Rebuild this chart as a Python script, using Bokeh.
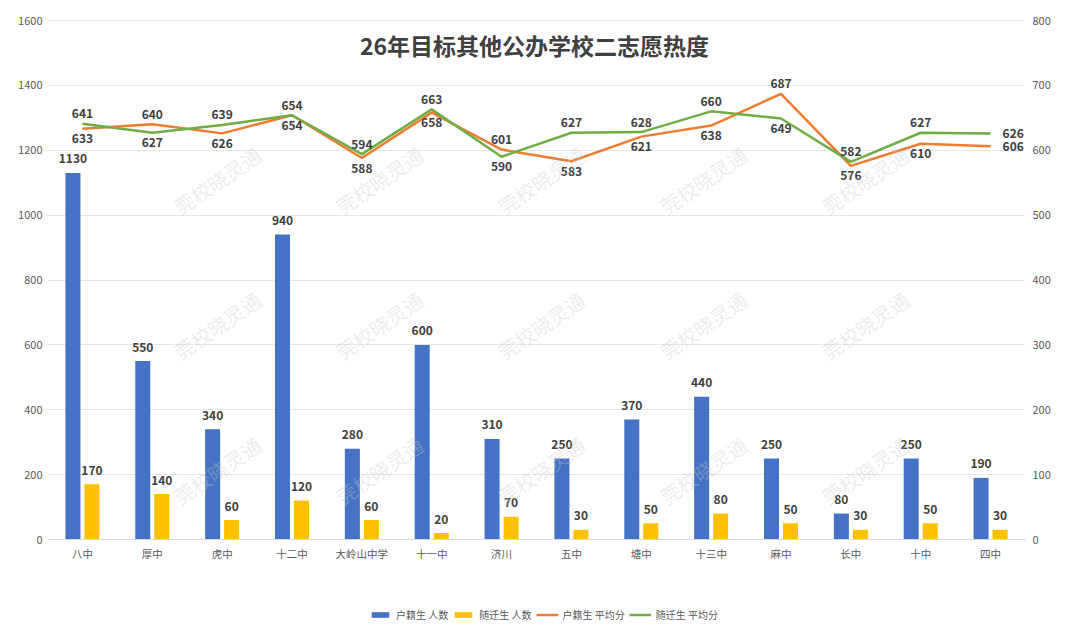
from bokeh.plotting import figure
from bokeh.models import (FactorRange, Range1d, LinearAxis, FixedTicker, Label,
                          Legend, LegendItem, ColumnDataSource)
from bokeh.transform import dodge
from bokeh.core.properties import value
from bokeh.embed import file_html
from bokeh.resources import INLINE

# ---------------- data ----------------
schools = ["八中", "厚中", "虎中", "十二中", "大岭山中学", "十一中", "济川",
           "五中", "塘中", "十三中", "麻中", "长中", "十中", "四中"]
huji_count = [1130, 550, 340, 940, 280, 600, 310, 250, 370, 440, 250, 80, 250, 190]
suiqian_count = [170, 140, 60, 120, 60, 20, 70, 30, 50, 80, 50, 30, 50, 30]
huji_avg = [633, 640, 626, 654, 588, 658, 601, 583, 621, 638, 687, 576, 610, 606]
suiqian_avg = [641, 627, 639, 654, 594, 663, 590, 627, 628, 660, 649, 582, 627, 626]
left_ticks = [0, 200, 400, 600, 800, 1000, 1200, 1400, 1600]
right_ticks = [0, 100, 200, 300, 400, 500, 600, 700, 800]
series_names = ["户籍生 人数", "随迁生 人数", "户籍生 平均分", "随迁生 平均分"]
title_text = "26年目标其他公办学校二志愿热度"
watermark_text = "莞校晓灵通"

# ---------------- style / layout ----------------
FONT = "Noto Sans CJK SC"
BLUE, GOLD, ORANGE, GREEN = "#4472C4", "#FFC000", "#ED7D31", "#70AD47"
LABEL_C = "#404040"
AXIS_C = "#595959"

W, H = 1080, 640
ML, MR = 47, 55           # side margins holding the value axes
Y_TOP_PX, Y_ZERO_PX = 20, 539   # pixel rows of the top tick and of zero
FW = W - ML - MR
FH = H
px_per_unit = (Y_ZERO_PX - Y_TOP_PX) / left_ticks[-1]
y_lo = -(H - Y_ZERO_PX) / px_per_unit
y_hi = left_ticks[-1] + Y_TOP_PX / px_per_unit
ratio = right_ticks[-1] / left_ticks[-1]

p = figure(width=W, height=H, x_range=FactorRange(factors=schools),
           y_range=Range1d(y_lo, y_hi), output_backend="svg",
           toolbar_location=None,
           min_border_left=ML, min_border_right=MR, min_border_top=0,
           min_border_bottom=0)
p.extra_y_ranges = {"score": Range1d(y_lo * ratio, y_hi * ratio)}
p.outline_line_color = None
p.background_fill_color = "white"
p.border_fill_color = "white"

# faint watermark
for j in range(5):
    for k in range(7):
        px = 55 + 162 * k
        py = 35 + 145 * j
        sx, sy = px - ML, H - py
        if 45 <= sx <= FW - 45 and 45 <= sy <= FH - 80:
            p.add_layout(Label(x=sx, y=sy, x_units="screen", y_units="screen",
                               text=watermark_text, angle=0.6,
                               text_align="center", text_baseline="middle",
                               text_font=FONT, text_font_size="20px",
                               text_color="#C8C8C8", text_alpha=0.35))

# axes
p.yaxis.ticker = FixedTicker(ticks=left_ticks)
p.ygrid.ticker = FixedTicker(ticks=left_ticks)
p.xgrid.grid_line_color = None
p.ygrid.grid_line_color = "#E6E6E6"
p.ygrid.grid_line_width = 1

lax = p.yaxis[0]
lax.axis_line_color = None
lax.major_tick_line_color = None
lax.minor_tick_line_color = None
lax.major_tick_out = 0
lax.major_tick_in = 0
lax.minor_tick_out = 0
lax.major_label_text_font = FONT
lax.major_label_text_font_size = "11px"
lax.major_label_text_color = AXIS_C
lax.major_label_standoff = 5

rax = LinearAxis(y_range_name="score", ticker=FixedTicker(ticks=right_ticks))
rax.axis_line_color = None
rax.major_tick_line_color = None
rax.minor_tick_line_color = None
rax.major_tick_out = 0
rax.major_tick_in = 0
rax.minor_tick_out = 0
rax.major_label_text_font = FONT
rax.major_label_text_font_size = "11px"
rax.major_label_text_color = AXIS_C
rax.major_label_standoff = 7
p.add_layout(rax, "right")

xa = p.xaxis[0]
xa.fixed_location = 0
xa.axis_line_color = "#D9D9D9"
xa.major_tick_line_color = None
xa.minor_tick_line_color = None
xa.major_tick_out = 0
xa.major_tick_in = 0
xa.major_label_text_font = FONT
xa.major_label_text_font_size = "10.5px"
xa.major_label_text_color = AXIS_C
xa.major_label_standoff = 6

# ---------------- data sources ----------------
n = len(schools)
last = n - 1


def line_label_cols(own, other, own_on_top_when_tie):
    xo, yo, al = [], [], []
    for i in range(n):
        if i == last:
            xo.append(12); yo.append(0); al.append("left")
        else:
            up = own[i] > other[i] or (own[i] == other[i] and own_on_top_when_tie)
            xo.append(0); yo.append(-10 if up else 10); al.append("center")
    return xo, yo, al


h_xo, h_yo, h_al = line_label_cols(huji_avg, suiqian_avg, False)
s_xo, s_yo, s_al = line_label_cols(suiqian_avg, huji_avg, True)

src = ColumnDataSource(dict(
    school=schools,
    huji=huji_count, suiqian=suiqian_count,
    huji_t=[str(v) for v in huji_count], suiqian_t=[str(v) for v in suiqian_count],
    havg=huji_avg, savg=suiqian_avg,
    havg_t=[str(v) for v in huji_avg], savg_t=[str(v) for v in suiqian_avg],
    h_xo=h_xo, h_yo=h_yo, h_al=h_al,
    s_xo=s_xo, s_yo=s_yo, s_al=s_al,
))

OFF = 0.136
BW = 0.215
r_blue = p.vbar(x=dodge("school", -OFF, range=p.x_range), top="huji", width=BW,
                source=src, fill_color=BLUE, line_color=None)
r_gold = p.vbar(x=dodge("school", OFF, range=p.x_range), top="suiqian", width=BW,
                source=src, fill_color=GOLD, line_color=None)

lbl = dict(text_font=value(FONT), text_font_size="12px", text_font_style="bold",
           text_color=LABEL_C, text_baseline="middle")
p.text(x=dodge("school", -OFF, range=p.x_range), y="huji", text="huji_t",
       y_offset=-14, text_align="center", source=src, **lbl)
p.text(x=dodge("school", OFF, range=p.x_range), y="suiqian", text="suiqian_t",
       y_offset=-14, text_align="center", source=src, **lbl)

r_or = p.line(x="school", y="havg", y_range_name="score", source=src,
              line_color=ORANGE, line_width=2.5)
r_gr = p.line(x="school", y="savg", y_range_name="score", source=src,
              line_color=GREEN, line_width=2.5)

p.text(x="school", y="havg", text="havg_t", y_range_name="score",
       x_offset="h_xo", y_offset="h_yo", text_align="h_al", source=src, **lbl)
p.text(x="school", y="savg", text="savg_t", y_range_name="score",
       x_offset="s_xo", y_offset="s_yo", text_align="s_al", source=src, **lbl)

# title
p.add_layout(Label(x=FW / 2 - 2, y=H - 44, x_units="screen", y_units="screen",
                   text=title_text, text_align="center", text_baseline="middle",
                   text_font=FONT, text_font_size="23px", text_font_style="bold",
                   text_color=LABEL_C))

# legend at the bottom
legend = Legend(items=[LegendItem(label=series_names[0], renderers=[r_blue]),
                       LegendItem(label=series_names[1], renderers=[r_gold]),
                       LegendItem(label=series_names[2], renderers=[r_or]),
                       LegendItem(label=series_names[3], renderers=[r_gr])],
                orientation="horizontal", location=(322, 18),
                border_line_color=None, background_fill_alpha=0,
                padding=0, margin=0, spacing=4, label_standoff=5,
                glyph_width=22, glyph_height=7, label_height=12,
                label_text_font=FONT, label_text_font_size="10px",
                label_text_color=AXIS_C)
p.add_layout(legend)

html = file_html(p, INLINE, title=title_text)
with open("out.html", "w", encoding="utf-8") as f:
    f.write(html)
